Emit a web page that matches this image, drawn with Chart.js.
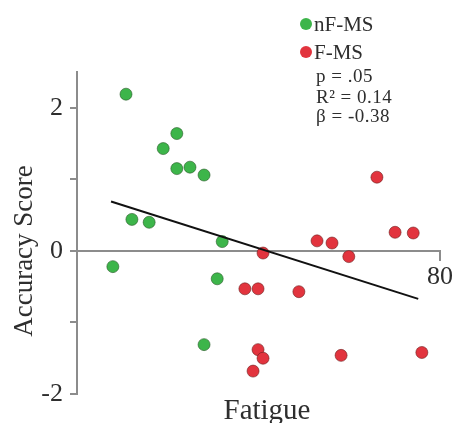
<!DOCTYPE html>
<html>
<head>
<meta charset="utf-8">
<script src="https://cdn.jsdelivr.net/npm/chart.js@4"></script>
<style>
  html, body { margin: 0; padding: 0; background: #fff; }
  #wrap { width: 452px; height: 423px; }
</style>
</head>
<body>
<div id="wrap"><canvas id="grafico" width="452" height="423"></canvas></div>
<script>
// Dados
const greenX = [10.8, 7.9, 12.1, 15.9, 19.0, 22.0, 22.0, 24.9, 28.0, 32.0, 30.9, 28.0];
const greenY = [2.19, -0.22, 0.44, 0.40, 1.43, 1.64, 1.15, 1.17, 1.06, 0.13, -0.39, -1.31];
const redX = [66.1, 70.1, 74.1, 52.9, 56.2, 59.9, 41.0, 37.0, 39.9, 48.9, 39.9, 41.0, 38.8, 58.2, 76.0];
const redY = [1.03, 0.26, 0.25, 0.14, 0.11, -0.08, -0.03, -0.53, -0.53, -0.57, -1.38, -1.50, -1.68, -1.46, -1.42];
const fitX = [7.5, 75.2];
const fitY = [0.69, -0.67];

const seriesLabels = ["nF-MS", "F-MS"];
const statsLines = ["p = .05", "R\u00B2 = 0.14", "\u03B2 = -0.38"];
const yTicks = [-2, -1, 0, 1, 2];
const yTickLabels = { "-2": "-2", "0": "0", "2": "2" };
const xTicks = [80];
const xTitle = "Fatigue";
const yTitle = "Accuracy Score";

const pontos = (xs, ys) => xs.map((x, i) => ({ x: x, y: ys[i] }));

const cores = {
  verde: "#3db54a",
  vermelho: "#e2343e",
  eixo: "#8c8c8c",
  texto: "#2e2e2e",
};
const serif = "'Liberation Serif', 'DejaVu Serif', serif";

// textos soltos: legenda, estatisticas e titulos dos eixos
const anotacoes = {
  id: "anotacoes",
  afterDraw(chart) {
    const ctx = chart.ctx;
    ctx.save();
    ctx.fillStyle = cores.texto;
    ctx.textBaseline = "alphabetic";

    // legenda
    [cores.verde, cores.vermelho].forEach((c, i) => {
      const cy = 24 + i * 28;
      ctx.beginPath();
      ctx.arc(306, cy, 6, 0, Math.PI * 2);
      ctx.fillStyle = c;
      ctx.fill();
      ctx.fillStyle = cores.texto;
      ctx.font = "21px " + serif;
      ctx.textAlign = "left";
      ctx.fillText(seriesLabels[i], 314, cy + 7);
    });

    // estatisticas
    ctx.font = "19px " + serif;
    ctx.letterSpacing = "0.5px";
    [82, 103, 122].forEach((by, i) => ctx.fillText(statsLines[i], 316, by));
    ctx.letterSpacing = "0px";

    // titulo x
    ctx.font = "29px " + serif;
    ctx.textAlign = "center";
    ctx.fillText(xTitle, 267, 419);

    // titulo y (rodado)
    ctx.translate(32, 251);
    ctx.rotate(-Math.PI / 2);
    ctx.font = "27px " + serif;
    ctx.fillText(yTitle, 0, 0);
    ctx.restore();
  },
};

new Chart(document.getElementById("grafico"), {
  type: "scatter",
  data: {
    datasets: [
      {
        label: "fit",
        data: pontos(fitX, fitY),
        showLine: true,
        borderColor: "#111",
        borderWidth: 2,
        pointRadius: 0,
        fill: false,
      },
      {
        label: seriesLabels[0],
        data: pontos(greenX, greenY),
        backgroundColor: cores.verde,
        borderColor: "rgba(40,90,40,0.6)",
        borderWidth: 1,
        pointRadius: 6,
      },
      {
        label: seriesLabels[1],
        data: pontos(redX, redY),
        backgroundColor: cores.vermelho,
        borderColor: "rgba(110,30,30,0.6)",
        borderWidth: 1,
        pointRadius: 6,
      },
    ],
  },
  options: {
    responsive: false,
    animation: false,
    layout: { padding: { left: 0, top: 72, right: 12, bottom: 29 } },
    plugins: { legend: { display: false }, tooltip: { enabled: false } },
    scales: {
      x: {
        type: "linear",
        position: { y: 0 },
        min: 0,
        max: 80,
        afterBuildTicks: (s) => { s.ticks = xTicks.map((v) => ({ value: v })); },
        afterFit: (s) => { s.paddingLeft = 0; s.paddingRight = 0; },
        ticks: { color: cores.texto, font: { family: serif, size: 26 }, padding: 2, maxRotation: 0 },
        grid: { drawOnChartArea: false, color: cores.eixo, lineWidth: 2, tickLength: 9 },
        border: { color: cores.eixo, width: 2 },
      },
      y: {
        type: "linear",
        position: "left",
        min: -2,
        max: 2.5,
        afterBuildTicks: (s) => { s.ticks = yTicks.map((v) => ({ value: v })); },
        afterFit: (s) => { s.width = 77; },
        ticks: {
          color: cores.texto,
          font: { family: serif, size: 26 },
          padding: 7,
          callback: (v) => yTickLabels[String(v)] || "",
        },
        grid: { drawOnChartArea: false, color: cores.eixo, lineWidth: 2, tickLength: 7 },
        border: { color: cores.eixo, width: 2 },
      },
    },
  },
  plugins: [anotacoes],
});
</script>
</body>
</html>
